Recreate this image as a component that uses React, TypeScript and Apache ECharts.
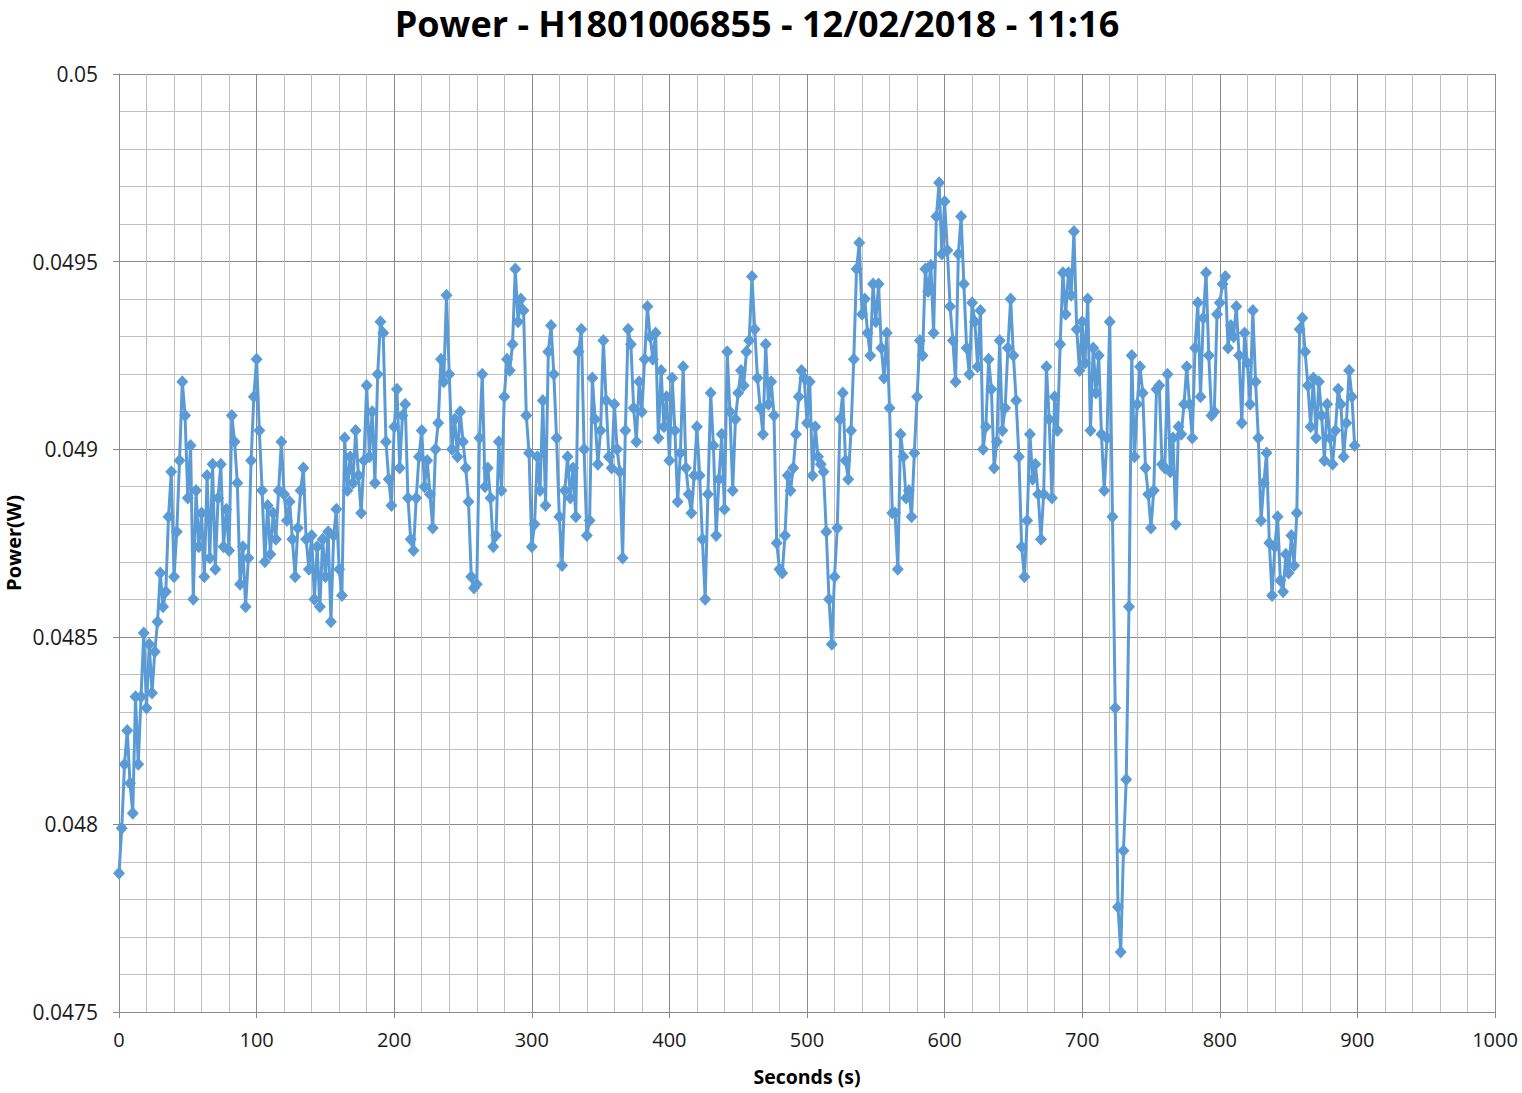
import React, { useEffect, useRef } from "react";
import * as echarts from "echarts";

const TITLE = "Power - H1801006855 - 12/02/2018 - 11:16";
const X_NAME = "Seconds (s)";
const Y_NAME = "Power(W)";

// sampling step of the recorded series, seconds
const SAMPLE_STEP = 2;

// Power readings (W), one every SAMPLE_STEP seconds, starting at 0 s
const power0to98 = [
  0.04787, 0.04799, 0.04816, 0.04825, 0.04811, 0.04803, 0.04834, 0.04816, 0.04834, 0.04851,
  0.04831, 0.04848, 0.04835, 0.04846, 0.04854, 0.04867, 0.04858, 0.04862, 0.04882, 0.04894,
  0.04866, 0.04878, 0.04897, 0.04918, 0.04909, 0.04887, 0.04901, 0.0486, 0.04889, 0.04874,
  0.04883, 0.04866, 0.04893, 0.04871, 0.04896, 0.04868, 0.04887, 0.04896, 0.04874, 0.04884,
  0.04873, 0.04909, 0.04902, 0.04891, 0.04864, 0.04874, 0.04858, 0.04871, 0.04897, 0.04914,
];
const power100to198 = [
  0.04924, 0.04905, 0.04889, 0.0487, 0.04885, 0.04872, 0.04883, 0.04876, 0.04889, 0.04902,
  0.04888, 0.04881, 0.04886, 0.04876, 0.04866, 0.04879, 0.04889, 0.04895, 0.04876, 0.04868,
  0.04877, 0.0486, 0.04874, 0.04858, 0.04876, 0.04866, 0.04878, 0.04854, 0.04877, 0.04884,
  0.04868, 0.04861, 0.04903, 0.04889, 0.04898, 0.04891, 0.04905, 0.04893, 0.04883, 0.04897,
  0.04917, 0.04898, 0.0491, 0.04891, 0.0492, 0.04934, 0.04931, 0.04902, 0.04892, 0.04885,
];
const power200to298 = [
  0.04906, 0.04916, 0.04895, 0.04909, 0.04912, 0.04887, 0.04876, 0.04873, 0.04887, 0.04898,
  0.04905, 0.0489, 0.04897, 0.04888, 0.04879, 0.049, 0.04907, 0.04924, 0.04918, 0.04941,
  0.0492, 0.049, 0.04908, 0.04898, 0.0491, 0.04902, 0.04895, 0.04886, 0.04866, 0.04863,
  0.04864, 0.04903, 0.0492, 0.0489, 0.04895, 0.04887, 0.04874, 0.04877, 0.04902, 0.04889,
  0.04914, 0.04924, 0.04921, 0.04928, 0.04948, 0.04934, 0.0494, 0.04937, 0.04909, 0.04899,
];
const power300to398 = [
  0.04874, 0.0488, 0.04898, 0.04889, 0.04913, 0.04885, 0.04926, 0.04933, 0.0492, 0.04903,
  0.04882, 0.04869, 0.04889, 0.04898, 0.04887, 0.04895, 0.04882, 0.04926, 0.04932, 0.049,
  0.04877, 0.04881, 0.04919, 0.04908, 0.04896, 0.04905, 0.04929, 0.04913, 0.04898, 0.04895,
  0.04912, 0.049, 0.04894, 0.04871, 0.04905, 0.04932, 0.04928, 0.04911, 0.04902, 0.04918,
  0.0491, 0.04924, 0.04938, 0.0493, 0.04924, 0.04931, 0.04903, 0.04921, 0.04906, 0.04914,
];
const power400to498 = [
  0.04897, 0.04919, 0.04905, 0.04886, 0.04899, 0.04922, 0.04895, 0.04888, 0.04883, 0.04893,
  0.04906, 0.04893, 0.04876, 0.0486, 0.04888, 0.04915, 0.04901, 0.04877, 0.04892, 0.04904,
  0.04884, 0.04926, 0.0491, 0.04889, 0.04908, 0.04915, 0.04921, 0.04917, 0.04926, 0.04929,
  0.04946, 0.04932, 0.04919, 0.04911, 0.04904, 0.04928, 0.04912, 0.04918, 0.04909, 0.04875,
  0.04868, 0.04867, 0.04877, 0.04893, 0.04889, 0.04895, 0.04904, 0.04914, 0.04921, 0.04919,
];
const power500to598 = [
  0.04907, 0.04918, 0.04893, 0.04906, 0.04898, 0.04896, 0.04894, 0.04878, 0.0486, 0.04848,
  0.04866, 0.04879, 0.04908, 0.04915, 0.04897, 0.04892, 0.04905, 0.04924, 0.04948, 0.04955,
  0.04936, 0.0494, 0.04931, 0.04925, 0.04944, 0.04934, 0.04944, 0.04927, 0.04919, 0.04931,
  0.04911, 0.04883, 0.04883, 0.04868, 0.04904, 0.04898, 0.04887, 0.04889, 0.04882, 0.04899,
  0.04914, 0.04929, 0.04925, 0.04948, 0.04942, 0.04949, 0.04931, 0.04962, 0.04971, 0.04952,
];
const power600to698 = [
  0.04966, 0.04953, 0.04938, 0.04929, 0.04918, 0.04952, 0.04962, 0.04944, 0.04927, 0.0492,
  0.04939, 0.04934, 0.04922, 0.04937, 0.049, 0.04906, 0.04924, 0.04916, 0.04895, 0.04902,
  0.04929, 0.04905, 0.04911, 0.04927, 0.0494, 0.04925, 0.04913, 0.04898, 0.04874, 0.04866,
  0.04881, 0.04904, 0.04892, 0.04896, 0.04888, 0.04876, 0.04888, 0.04922, 0.04908, 0.04887,
  0.04914, 0.04905, 0.04928, 0.04947, 0.04936, 0.04947, 0.04941, 0.04958, 0.04932, 0.04921,
];
const power700to798 = [
  0.04934, 0.04923, 0.0494, 0.04905, 0.04927, 0.04915, 0.04925, 0.04904, 0.04889, 0.04903,
  0.04934, 0.04882, 0.04831, 0.04778, 0.04766, 0.04793, 0.04812, 0.04858, 0.04925, 0.04898,
  0.04912, 0.04922, 0.04915, 0.04895, 0.04888, 0.04879, 0.04889, 0.04916, 0.04917, 0.04896,
  0.04895, 0.0492, 0.04894, 0.04903, 0.0488, 0.04906, 0.04904, 0.04912, 0.04922, 0.04912,
  0.04903, 0.04927, 0.04939, 0.04914, 0.04935, 0.04947, 0.04925, 0.04909, 0.0491, 0.04936,
];
const power800to898 = [
  0.04939, 0.04944, 0.04946, 0.04927, 0.04933, 0.0493, 0.04938, 0.04925, 0.04907, 0.04931,
  0.04923, 0.04912, 0.04937, 0.04918, 0.04903, 0.04881, 0.04891, 0.04899, 0.04875, 0.04861,
  0.04874, 0.04882, 0.04865, 0.04862, 0.04872, 0.04867, 0.04877, 0.04869, 0.04883, 0.04932,
  0.04935, 0.04926, 0.04917, 0.04906, 0.04919, 0.04903, 0.04918, 0.04909, 0.04897, 0.04912,
  0.04903, 0.04896, 0.04905, 0.04916, 0.04912, 0.04898, 0.04907, 0.04921, 0.04914, 0.04901,
];

const power = [
  ...power0to98, ...power100to198, ...power200to298, ...power300to398, ...power400to498,
  ...power500to598, ...power600to698, ...power700to798, ...power800to898,
];

const X_MIN = 0, X_MAX = 1000, X_INTERVAL = 100;
const Y_MIN = 0.0475, Y_MAX = 0.05, Y_INTERVAL = 0.0005;

const FONT = "'Open Sans', 'Noto Sans', sans-serif";
const MAJOR = "#8a8a8a";
const MINOR = "#bfbfbf";
const LINE = "#5B9BD5";

export default function App() {
  const ref = useRef<HTMLDivElement>(null);
  useEffect(() => {
    if (!ref.current) return;
    const chart = echarts.init(ref.current, null, { renderer: "svg" });
    const data = power.map((v, i) => [i * SAMPLE_STEP, v]);
    chart.setOption({
      animation: false,
      backgroundColor: "#ffffff",
      title: {
        text: TITLE,
        left: 757,
        textAlign: "center",
        top: 3,
        padding: 0,
        textStyle: {
          fontFamily: FONT,
          fontSize: 36,
          lineHeight: 40,
          fontWeight: "bold",
          color: "#000",
        },
      },
      grid: {
        left: 119,
        top: 74,
        right: 27,
        bottom: 81,
        containLabel: false,
        outerBoundsMode: "none",
      },
      xAxis: {
        type: "value",
        min: X_MIN,
        max: X_MAX,
        interval: X_INTERVAL,
        name: X_NAME,
        nameLocation: "middle",
        nameGap: 54,
        nameMoveOverlap: false,
        nameTextStyle: { fontFamily: FONT, fontSize: 19.5, fontWeight: "bold", color: "#000" },
        axisLine: { show: true, lineStyle: { color: MAJOR, width: 1 } },
        axisTick: { show: true, length: 6, lineStyle: { color: MAJOR } },
        axisLabel: {
          fontFamily: FONT,
          fontSize: 20,
          color: "#1a1a1a",
          margin: 17,
          formatter: (v: number) => String(v),
        },
        splitLine: { show: true, lineStyle: { color: MAJOR, width: 1 } },
        minorTick: { show: false, splitNumber: 5 },
        minorSplitLine: { show: true, lineStyle: { color: MINOR, width: 1 } },
      },
      yAxis: {
        type: "value",
        min: Y_MIN,
        max: Y_MAX,
        interval: Y_INTERVAL,
        name: Y_NAME,
        nameLocation: "middle",
        nameGap: 95,
        nameMoveOverlap: false,
        nameTextStyle: {
          fontFamily: FONT,
          fontSize: 20,
          lineHeight: 22,
          fontWeight: "bold",
          color: "#000",
        },
        axisLine: { show: true, lineStyle: { color: MAJOR, width: 1 } },
        axisTick: { show: true, length: 6, lineStyle: { color: MAJOR } },
        axisLabel: {
          fontFamily: FONT,
          fontSize: 21,
          color: "#1a1a1a",
          margin: 21,
          formatter: (v: number) => String(+v.toFixed(4)),
        },
        splitLine: { show: true, lineStyle: { color: MAJOR, width: 1 } },
        minorTick: { show: false, splitNumber: 5 },
        minorSplitLine: { show: true, lineStyle: { color: MINOR, width: 1 } },
      },
      series: [
        {
          type: "line",
          data,
          symbol: "diamond",
          symbolSize: [12, 13],
          showAllSymbol: true,
          lineStyle: { color: LINE, width: 3 },
          itemStyle: { color: LINE },
        },
      ],
    });
    return () => chart.dispose();
  }, []);
  return (
    <div
      ref={ref}
      style={{ position: "fixed", left: 0, top: 0, width: 1522, height: 1093, background: "#fff" }}
    />
  );
}
